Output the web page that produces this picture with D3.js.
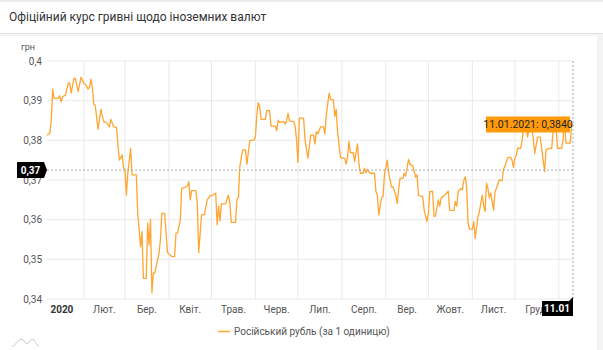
<!DOCTYPE html>
<html>
<head>
<meta charset="utf-8">
<script src="https://cdn.jsdelivr.net/npm/d3@7"></script>
<style>
  body { margin: 0; background: #fff; }
  svg { display: block; font-family: Roboto, "Noto Sans", Arial, sans-serif; }
</style>
</head>
<body>
<svg id="chart" width="603" height="350"></svg>
<script>
// NBU rate of the Russian rouble, UAH per 1 RUB
const rateDates = [
  "2020-01-06","2020-01-08","2020-01-09","2020-01-10","2020-01-11","2020-01-14","2020-01-15","2020-01-16","2020-01-17","2020-01-19",
  "2020-01-21","2020-01-22","2020-01-23","2020-01-24","2020-01-25","2020-01-26","2020-01-28","2020-01-30","2020-02-01","2020-02-02",
  "2020-02-04","2020-02-05","2020-02-06","2020-02-07","2020-02-08","2020-02-09","2020-02-11","2020-02-13","2020-02-15","2020-02-17",
  "2020-02-19","2020-02-20","2020-02-22","2020-02-24","2020-02-26","2020-02-28","2020-02-29","2020-03-01","2020-03-02","2020-03-03",
  "2020-03-05","2020-03-06","2020-03-09","2020-03-10","2020-03-12","2020-03-13","2020-03-14","2020-03-16","2020-03-17","2020-03-18",
  "2020-03-19","2020-03-20","2020-03-21","2020-03-22","2020-03-25","2020-03-26","2020-03-27","2020-03-29","2020-03-31","2020-04-03",
  "2020-04-05","2020-04-06","2020-04-07","2020-04-09","2020-04-10","2020-04-12","2020-04-14","2020-04-15","2020-04-16","2020-04-17",
  "2020-04-20","2020-04-21","2020-04-22","2020-04-24","2020-04-26","2020-04-28","2020-04-30","2020-05-02","2020-05-04","2020-05-05",
  "2020-05-06","2020-05-07","2020-05-08","2020-05-11","2020-05-13","2020-05-14","2020-05-15","2020-05-18","2020-05-19","2020-05-20",
  "2020-05-21","2020-05-23","2020-05-25","2020-05-26","2020-05-28","2020-05-31","2020-06-01","2020-06-02","2020-06-03","2020-06-04",
  "2020-06-05","2020-06-08","2020-06-09","2020-06-11","2020-06-12","2020-06-15","2020-06-16","2020-06-17","2020-06-18","2020-06-21",
  "2020-06-22","2020-06-23","2020-06-24","2020-06-25","2020-06-28","2020-06-29","2020-06-30","2020-07-01","2020-07-02","2020-07-05",
  "2020-07-06","2020-07-08","2020-07-10","2020-07-12","2020-07-13","2020-07-14","2020-07-15","2020-07-17","2020-07-19","2020-07-20",
  "2020-07-21","2020-07-23","2020-07-24","2020-07-26","2020-07-27","2020-07-28","2020-07-29","2020-07-31","2020-08-03","2020-08-04",
  "2020-08-05","2020-08-06","2020-08-07","2020-08-09","2020-08-10","2020-08-12","2020-08-13","2020-08-14","2020-08-16","2020-08-17",
  "2020-08-18","2020-08-19","2020-08-21","2020-08-24","2020-08-25","2020-08-26","2020-08-27","2020-08-29","2020-08-30","2020-08-31",
  "2020-09-02","2020-09-03","2020-09-05","2020-09-06","2020-09-08","2020-09-09","2020-09-10","2020-09-11","2020-09-13","2020-09-14",
  "2020-09-15","2020-09-17","2020-09-18","2020-09-20","2020-09-22","2020-09-23","2020-09-24","2020-09-25","2020-09-27","2020-09-28",
  "2020-09-30","2020-10-01","2020-10-02","2020-10-04","2020-10-05","2020-10-06","2020-10-08","2020-10-09","2020-10-10","2020-10-12",
  "2020-10-14","2020-10-15","2020-10-16","2020-10-19","2020-10-20","2020-10-21","2020-10-22","2020-10-24","2020-10-25","2020-10-26",
  "2020-10-27","2020-10-28","2020-10-29","2020-10-30","2020-11-01","2020-11-02","2020-11-03","2020-11-05","2020-11-06","2020-11-08",
  "2020-11-09","2020-11-10","2020-11-11","2020-11-12","2020-11-13","2020-11-14","2020-11-16","2020-11-17","2020-11-18","2020-11-20",
  "2020-11-22","2020-11-23","2020-11-24","2020-11-26","2020-11-28","2020-11-29","2020-11-30","2020-12-01","2020-12-02","2020-12-03",
  "2020-12-05","2020-12-06","2020-12-07","2020-12-09","2020-12-10","2020-12-11","2020-12-13","2020-12-14","2020-12-15","2020-12-17",
  "2020-12-19","2020-12-20","2020-12-22","2020-12-23","2020-12-26","2020-12-27","2020-12-28","2020-12-30","2020-12-31","2021-01-03",
  "2021-01-04","2021-01-05","2021-01-06","2021-01-09","2021-01-10","2021-01-11"
];
const rateValues = [
  0.3813,0.3818,0.3851,0.3929,0.3906,0.3906,0.3912,0.3897,0.3910,0.3914,
  0.3944,0.3945,0.3919,0.3937,0.3956,0.3956,0.3923,0.3959,0.3944,0.3942,
  0.3929,0.3934,0.3954,0.3931,0.3891,0.3889,0.3828,0.3878,0.3847,0.3845,
  0.3834,0.3853,0.3834,0.3833,0.3750,0.3763,0.3730,0.3727,0.3662,0.3717,
  0.3780,0.3713,0.3713,0.3616,0.3532,0.3570,0.3452,0.3452,0.3591,0.3536,
  0.3601,0.3416,0.3465,0.3465,0.3515,0.3549,0.3616,0.3616,0.3517,0.3507,
  0.3507,0.3566,0.3566,0.3599,0.3679,0.3681,0.3685,0.3696,0.3650,0.3673,
  0.3673,0.3641,0.3517,0.3612,0.3613,0.3650,0.3660,0.3662,0.3667,0.3587,
  0.3634,0.3597,0.3640,0.3640,0.3662,0.3641,0.3593,0.3593,0.3650,0.3656,
  0.3734,0.3776,0.3776,0.3740,0.3799,0.3801,0.3809,0.3864,0.3895,0.3885,
  0.3853,0.3853,0.3875,0.3875,0.3836,0.3836,0.3824,0.3851,0.3845,0.3847,
  0.3841,0.3849,0.3868,0.3849,0.3847,0.3836,0.3801,0.3744,0.3856,0.3856,
  0.3801,0.3755,0.3813,0.3813,0.3791,0.3822,0.3816,0.3834,0.3834,0.3816,
  0.3864,0.3919,0.3903,0.3902,0.3860,0.3878,0.3819,0.3757,0.3754,0.3740,
  0.3759,0.3797,0.3769,0.3769,0.3746,0.3791,0.3742,0.3717,0.3717,0.3730,
  0.3718,0.3727,0.3717,0.3717,0.3671,0.3662,0.3612,0.3656,0.3658,0.3713,
  0.3750,0.3717,0.3682,0.3683,0.3662,0.3641,0.3675,0.3704,0.3704,0.3717,
  0.3710,0.3752,0.3740,0.3735,0.3707,0.3713,0.3662,0.3660,0.3658,0.3624,
  0.3595,0.3616,0.3671,0.3671,0.3608,0.3609,0.3650,0.3634,0.3655,0.3660,
  0.3668,0.3672,0.3624,0.3623,0.3646,0.3634,0.3671,0.3679,0.3675,0.3700,
  0.3708,0.3683,0.3591,0.3576,0.3576,0.3595,0.3553,0.3608,0.3621,0.3662,
  0.3634,0.3621,0.3692,0.3679,0.3655,0.3667,0.3624,0.3671,0.3679,0.3700,
  0.3698,0.3727,0.3735,0.3757,0.3757,0.3750,0.3732,0.3755,0.3763,0.3780,
  0.3780,0.3797,0.3826,0.3830,0.3808,0.3830,0.3830,0.3805,0.3767,0.3808,
  0.3808,0.3776,0.3721,0.3777,0.3780,0.3780,0.3826,0.3839,0.3780,0.3780,
  0.3801,0.3860,0.3793,0.3793,0.3836,0.3840
];

const yTicks = [0.34, 0.35, 0.36, 0.37, 0.38, 0.39, 0.40];
const monthLabels = ["2020","Лют.","Бер.","Квіт.","Трав.","Черв.","Лип.","Серп.","Вер.","Жовт.","Лист.","Груд."];
const titleText = "Офіційний курс гривні щодо іноземних валют";
const unitText = "грн";
const seriesName = "Російський рубль (за 1 одиницю)";
const cursorValue = 0.3725;

const parse = d3.timeParse("%Y-%m-%d");
const data = rateDates.map((d, i) => ({date: parse(d), value: rateValues[i]}));
const last = data[data.length - 1];

const ua = d3.formatLocale({decimal: ",", thousands: " ", grouping: [3], currency: ["", ""]});
const fmtTick = ua.format(".2~f");
const fmtCursor = ua.format(".2f");
const fmtValue = ua.format(".4f");

const svg = d3.select("#chart");
const plotL = 47, plotR = 573, plotT = 61, plotB = 299;
const orange = "#ffa531";

const x = d3.scaleTime().domain([data[0].date, last.date]).range([plotL, plotR]);
const y = d3.scaleLinear().domain([0.34, 0.40]).range([plotB, plotT]);

// header
svg.append("rect").attr("x", 0).attr("y", 0).attr("width", 603).attr("height", 2).attr("fill", "#ececec");
svg.append("text").attr("x", 9).attr("y", 21).attr("font-size", 12).attr("fill", "#333").text(titleText);
svg.append("rect").attr("x", 0).attr("y", 33).attr("width", 603).attr("height", 1).attr("fill", "#e2e2e2");
svg.append("rect").attr("x", 0).attr("y", 34).attr("width", 603).attr("height", 2).attr("fill", "#f4f4f4");

// grid
const months = d3.timeMonth.range(d3.timeMonth.ceil(data[0].date), last.date);
svg.append("g").selectAll("line").data(yTicks).join("line")
  .attr("x1", plotL).attr("x2", plotR)
  .attr("y1", d => y(d)).attr("y2", d => y(d))
  .attr("stroke", "#e9e9e9");
svg.append("g").selectAll("line").data(months).join("line")
  .attr("x1", d => x(d)).attr("x2", d => x(d))
  .attr("y1", plotT).attr("y2", plotB)
  .attr("stroke", "#e9e9e9");

// y labels
svg.append("g").selectAll("text").data(yTicks).join("text")
  .attr("x", 42).attr("y", d => y(d) + 3.5)
  .attr("text-anchor", "end").attr("font-size", 10).attr("fill", "#555")
  .text(d => fmtTick(d));
svg.append("text").attr("x", 21).attr("y", 50).attr("font-size", 9).attr("fill", "#555").text(unitText);

// x labels, centred in each month cell
const monthStarts = d3.timeMonth.range(new Date(2020, 0, 1), new Date(2020, 11, 2));
svg.append("g").selectAll("text").data(monthStarts).join("text")
  .attr("x", d => (x(d) + x(d3.timeMonth.offset(d, 1))) / 2)
  .attr("y", 313)
  .attr("text-anchor", "middle").attr("font-size", 10)
  .attr("font-weight", (d, i) => i === 0 ? "bold" : "normal")
  .attr("fill", (d, i) => i === 0 ? "#333" : "#555")
  .text((d, i) => monthLabels[i]);

// series
const line = d3.line().x(d => x(d.date)).y(d => y(d.value));
svg.append("path").datum(data)
  .attr("fill", "none").attr("stroke", orange).attr("stroke-width", 1.3)
  .attr("stroke-linejoin", "round").attr("d", line);

// cursor lines
svg.append("line").attr("x1", plotL).attr("x2", plotR).attr("y1", y(cursorValue)).attr("y2", y(cursorValue))
  .attr("stroke", "#aaa").attr("stroke-dasharray", "2,2");
svg.append("line").attr("x1", x(last.date)).attr("x2", x(last.date)).attr("y1", plotT).attr("y2", plotB)
  .attr("stroke", "#aaa").attr("stroke-dasharray", "2,2");

// cursor labels
const cy = y(cursorValue);
svg.append("path")
  .attr("d", `M17,${cy - 8}H44L47,${cy}L44,${cy + 8}H17Z`)
  .attr("fill", "#000");
svg.append("text").attr("x", 30.5).attr("y", cy + 3.5).attr("text-anchor", "middle")
  .attr("font-size", 10).attr("font-weight", "bold").attr("fill", "#fff").text(fmtCursor(cursorValue));

const cx = x(last.date);
svg.append("path")
  .attr("d", `M${cx - 31},301H${cx - 4}L${cx},297V316H${cx - 31}Z`)
  .attr("fill", "#000");
svg.append("text").attr("x", cx - 16).attr("y", 312).attr("text-anchor", "middle")
  .attr("font-size", 10).attr("font-weight", "bold").attr("fill", "#fff").text(d3.timeFormat("%d.%m")(last.date));

// value tooltip
const ty = y(last.value);
svg.append("path")
  .attr("d", `M${cx - 87},${ty - 8}H${cx - 3}V${ty - 3}L${cx},${ty}L${cx - 3},${ty + 3}V${ty + 8}H${cx - 87}Z`)
  .attr("fill", "#ff9a0d");
svg.append("text").attr("x", cx - 45).attr("y", ty + 4).attr("text-anchor", "middle")
  .attr("font-size", 10.5).attr("fill", "#222")
  .text(`${d3.timeFormat("%d.%m.%Y")(last.date)}: ${fmtValue(last.value)}`);

// legend
svg.append("line").attr("x1", 218).attr("x2", 230).attr("y1", 331.5).attr("y2", 331.5)
  .attr("stroke", orange).attr("stroke-width", 1.5);
svg.append("text").attr("x", 234).attr("y", 335).attr("font-size", 10).attr("fill", "#555").text(seriesName);

// small logo mark
svg.append("path")
  .attr("d", "M12,346C16,346 18,339 21,339C24,339 25,344 27,344C29,344 30,339 32,339C35,339 36,346 39,346")
  .attr("fill", "none").attr("stroke", "#bbb").attr("stroke-width", 0.8);

// right scroll strip
svg.append("rect").attr("x", 597).attr("y", 36).attr("width", 6).attr("height", 314).attr("fill", "#f3f3f3");
</script>
</body>
</html>
